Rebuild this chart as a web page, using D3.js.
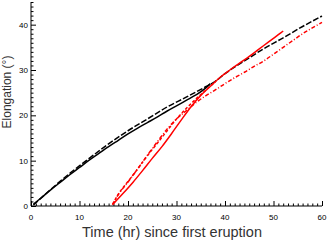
<!DOCTYPE html>
<html>
<head>
<meta charset="utf-8">
<script src="https://cdn.jsdelivr.net/npm/d3@7"></script>
<style>
  body { margin: 0; background: #fff; }
  svg { display: block; }
  text { font-family: "Liberation Sans", "DejaVu Sans", sans-serif; }
</style>
</head>
<body>
<svg id="chart" width="327" height="240"></svg>
<script>
// time since first eruption (hr) and elongation (deg)
const black_solid_t = [0.5, 2, 4, 6, 8, 10, 12, 14, 16, 18, 20, 22, 24, 26, 28, 30, 32, 34, 36, 37];
const black_solid_e = [0.4, 1.7, 3.5, 5.2, 6.9, 8.5, 10.1, 11.6, 13.1, 14.5, 15.9, 17.2, 18.4, 19.6, 20.9, 22.1, 23.3, 24.5, 26.0, 27.0];

const black_dash_t = [0.5, 4, 8, 12, 16, 20, 24, 28, 32, 36, 38, 40, 44, 48, 52, 56, 60];
const black_dash_e = [0.2, 3.6, 7.2, 10.5, 13.7, 16.6, 19.2, 21.8, 24.0, 26.3, 27.5, 29.2, 32.0, 34.7, 37.1, 39.6, 41.9];

const red_solid_t = [17, 19, 21, 23, 25, 27, 29, 31, 33, 35, 37, 39, 41, 43, 45, 47, 49, 51, 52];
const red_solid_e = [0.5, 2.8, 5.2, 7.8, 10.5, 13.1, 16.0, 19.0, 21.9, 24.4, 26.4, 28.4, 30.0, 31.5, 33.0, 34.6, 36.2, 37.8, 38.6];

const red_dash_t = [16.8, 18, 20, 22, 24, 26, 28, 30, 32, 34, 36, 38];
const red_dash_e = [0.3, 2.6, 5.4, 8.2, 11.1, 13.8, 16.5, 19.2, 21.5, 23.6, 25.5, 27.4];

const red_dashdot_t = [16.8, 18, 20, 22, 24, 26, 28, 30, 32, 34, 36, 38, 40, 42, 44, 46, 48, 50, 52, 54, 56, 58, 60];
const red_dashdot_e = [0.3, 2.5, 5.3, 8.2, 11.2, 14.1, 16.9, 19.2, 21.0, 22.8, 24.3, 25.6, 27.0, 28.3, 29.5, 30.8, 32.0, 33.5, 35.0, 36.5, 38.0, 39.3, 40.5];

const x_ticks = [0, 10, 20, 30, 40, 50, 60];
const y_ticks = [0, 10, 20, 30, 40];

const series = [
    { t: black_solid_t, e: black_solid_e, color: "#000", dash: null },
    { t: black_dash_t, e: black_dash_e, color: "#000", dash: "6,2" },
    { t: red_dashdot_t, e: red_dashdot_e, color: "#f00", dash: "4,2,1,2" },
    { t: red_dash_t, e: red_dash_e, color: "#f00", dash: "3,2" },
    { t: red_solid_t, e: red_solid_e, color: "#f00", dash: null },
];

const margin = { left: 31, right: 5, top: 2, bottom: 34 };
const width = 327, height = 240;
const svg = d3.select("#chart");

const x = d3.scaleLinear().domain([0, 60]).range([margin.left, width - margin.right]);
const y = d3.scaleLinear().domain([0, 45]).range([height - margin.bottom, margin.top]);

// x axis, ticks pointing inward like IDL
const xAxis = svg.append("g").attr("transform", `translate(0,${y(0)})`);
xAxis.call(d3.axisTop(x).tickValues(d3.range(0, 61, 1)).tickSize(2.5).tickFormat(""));
xAxis.call(g => g.selectAll(".tick").filter(d => d % 10 === 0).select("line").attr("y2", -5));
xAxis.select(".domain").attr("d", `M${x(0)},0H${x(60)}`);
xAxis.selectAll("line, path").attr("stroke", "#000").attr("stroke-width", 1);
xAxis.append("g").selectAll("text")
    .data(x_ticks)
    .enter()
    .append("text")
    .attr("x", d => x(d))
    .attr("y", 14)
    .attr("text-anchor", "middle")
    .style("font-size", "8px")
    .style("fill", "#000")
    .text(d => d);

const yAxis = svg.append("g").attr("transform", `translate(${x(0)},0)`);
yAxis.call(d3.axisRight(y).tickValues(d3.range(0, 46, 1)).tickSize(2.5).tickFormat(""));
yAxis.call(g => g.selectAll(".tick").filter(d => d % 10 === 0).select("line").attr("x2", 5));
yAxis.select(".domain").attr("d", `M0,${y(0)}V${y(45)}`);
yAxis.selectAll("line, path").attr("stroke", "#000").attr("stroke-width", 1);
yAxis.append("g").selectAll("text")
    .data(y_ticks)
    .enter()
    .append("text")
    .attr("x", -3)
    .attr("y", d => y(d) + 3)
    .attr("text-anchor", "end")
    .style("font-size", "8px")
    .style("fill", "#000")
    .text(d => d);

// axis titles
svg.append("text")
    .attr("x", 172)
    .attr("y", 237)
    .attr("text-anchor", "middle")
    .style("font-size", "14.5px")
    .style("fill", "#333")
    .text("Time (hr) since first eruption");

svg.append("text")
    .attr("transform", `translate(11,${92}) rotate(-90)`)
    .attr("text-anchor", "middle")
    .style("font-size", "12px")
    .style("fill", "#333")
    .text("Elongation (°)");

const line = d3.line()
    .x(d => x(d[0]))
    .y(d => y(d[1]))
    .curve(d3.curveMonotoneX);

svg.append("g").selectAll("path")
    .data(series)
    .enter()
    .append("path")
    .attr("d", s => line(s.t.map((t, i) => [t, s.e[i]])))
    .attr("fill", "none")
    .attr("stroke", s => s.color)
    .attr("stroke-width", 1.5)
    .attr("stroke-dasharray", s => s.dash);
</script>
</body>
</html>
